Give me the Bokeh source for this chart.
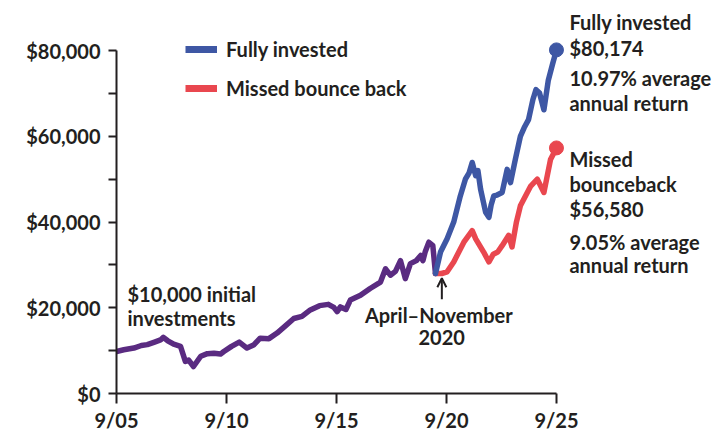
from bokeh.plotting import figure
from bokeh.models import (FixedTicker, Label, Arrow, OpenHead, Legend, LegendItem,
                          Range1d, NumeralTickFormatter)
from bokeh.embed import file_html
from bokeh.resources import INLINE

# ---------------- data (decimal years, dollars) ----------------
before_t = [2005.67, 2006.0, 2006.46, 2006.8, 2007.07, 2007.4, 2007.67, 2007.8, 2008.0,
            2008.27, 2008.58, 2008.8, 2008.95, 2009.17, 2009.5, 2009.8, 2010.1, 2010.4,
            2010.55, 2010.9, 2011.25, 2011.6, 2011.9, 2012.2, 2012.6, 2012.97, 2013.4,
            2013.73, 2014.1, 2014.48, 2014.9, 2015.3, 2015.55, 2015.7, 2015.85, 2016.1,
            2016.3, 2016.76, 2017.2, 2017.67, 2017.9, 2018.12, 2018.35, 2018.58, 2018.8,
            2019.03, 2019.3, 2019.5, 2019.6, 2019.7, 2019.87, 2020.05, 2020.17]
before_v = [9800, 10200, 10600, 11200, 11400, 12000, 12500, 13100, 12300,
            11500, 11000, 7500, 7800, 6300, 8700, 9300, 9400, 9200,
            9800, 11000, 12000, 10600, 11300, 12900, 12800, 14100, 16000,
            17500, 18000, 19500, 20500, 20800, 20100, 19100, 20200, 19600,
            21800, 22900, 24500, 26000, 29100, 27600, 28500, 31000, 26800,
            30300, 31000, 32200, 31000, 33000, 35300, 34500, 28000]

full_t = [2020.17, 2020.4, 2020.7, 2021.0, 2021.3, 2021.53, 2021.7, 2021.84, 2022.0,
          2022.1, 2022.22, 2022.45, 2022.6, 2022.7, 2022.82, 2022.97, 2023.2, 2023.43,
          2023.58, 2023.8, 2024.03, 2024.2, 2024.4, 2024.6, 2024.74, 2024.9, 2025.1,
          2025.3, 2025.5, 2025.67]
full_v = [28000, 33000, 36100, 40000, 46100, 50000, 51500, 53900, 50800,
          52000, 47700, 42300, 41100, 44000, 46100, 46300, 46900, 52300,
          49200, 54600, 60000, 62000, 63900, 68600, 70900, 70100, 66200,
          73100, 77000, 80174]

missed_t = [2020.17, 2020.45, 2020.7, 2021.0, 2021.46, 2021.84, 2022.0, 2022.36, 2022.6,
            2022.8, 2023.0, 2023.2, 2023.5, 2023.65, 2023.85, 2024.03, 2024.5, 2024.8,
            2025.1, 2025.4, 2025.67]
missed_v = [28000, 28000, 28400, 30700, 35300, 38000, 36100, 33000, 30700,
            32500, 33000, 34500, 36900, 34200, 40000, 43800, 48400, 50000,
            46900, 54600, 57300]

tick_years = [2005.67, 2010.67, 2015.67, 2020.67, 2025.67]
tick_labels = ["9/05", "9/10", "9/15", "9/20", "9/25"]
y_ticks = [0, 20000, 40000, 60000, 80000]
y_minor = [10000, 30000, 50000, 70000]

PURPLE = "#5a2b81"
BLUE = "#3e57a4"
RED = "#e9474f"
INK = "#231f20"
FONT = "Lato"
NAN = float("nan")

p = figure(width=715, height=434, output_backend="svg", toolbar_location=None,
           x_range=Range1d(2005.67, 2032.9), y_range=Range1d(0, 91700),
           min_border_left=116, min_border_right=0, min_border_top=0,
           min_border_bottom=38)
p.outline_line_color = None
p.grid.visible = False
p.background_fill_color = "white"
p.border_fill_color = "white"

# lines
p.line(before_t, before_v, line_color=PURPLE, line_width=5.5, line_join="round", line_cap="round")
p.line(missed_t, missed_v, line_color=RED, line_width=5.5, line_join="round", line_cap="round")
p.line(full_t, full_v, line_color=BLUE, line_width=5.5, line_join="round", line_cap="round")
p.scatter([full_t[-1]], [full_v[-1]], size=14, color=BLUE)
p.scatter([missed_t[-1]], [missed_v[-1]], size=14, color=RED)

# axes
xa = p.xaxis[0]
xa.ticker = FixedTicker(ticks=tick_years, minor_ticks=[])
xa.major_label_overrides = {t: l for t, l in zip(tick_years, tick_labels)}
xa.bounds = (tick_years[0], tick_years[-1])
xa.axis_line_width = 2
xa.axis_line_color = INK
xa.major_tick_line_width = 2
xa.major_tick_line_color = INK
xa.major_tick_out = 10
xa.major_tick_in = 0
xa.minor_tick_line_color = None
xa.major_label_standoff = 4
xa.major_label_text_font = FONT
xa.major_label_text_font_style = "bold"
xa.major_label_text_font_size = "20px"
xa.major_label_text_color = INK

ya = p.yaxis[0]
ya.ticker = FixedTicker(ticks=y_ticks, minor_ticks=y_minor)
ya.formatter = NumeralTickFormatter(format="$0,0")
ya.bounds = (0, 80000)
ya.axis_line_width = 2
ya.axis_line_color = INK
ya.major_tick_line_width = 2
ya.major_tick_line_color = INK
ya.major_tick_out = 8
ya.major_tick_in = 0
ya.minor_tick_line_width = 2
ya.minor_tick_line_color = INK
ya.minor_tick_out = 8
ya.minor_tick_in = 0
ya.major_label_standoff = 8
ya.major_label_text_font = FONT
ya.major_label_text_font_style = "bold"
ya.major_label_text_font_size = "20px"
ya.major_label_text_color = INK

# legend (swatches drawn thicker than the data lines)
r_leg_full = p.line([NAN, NAN], [NAN, NAN], line_color=BLUE, line_width=7)
r_leg_miss = p.line([NAN, NAN], [NAN, NAN], line_color=RED, line_width=7)
legend = Legend(items=[LegendItem(label="Fully invested", renderers=[r_leg_full]),
                       LegendItem(label="Missed bounce back", renderers=[r_leg_miss])],
                location=(69, 293), glyph_width=32, glyph_height=24, label_height=24,
                label_standoff=9, spacing=15, padding=0, margin=0,
                border_line_color=None, background_fill_alpha=0,
                label_text_font=FONT, label_text_font_style="bold",
                label_text_font_size="20px", label_text_color=INK)
p.add_layout(legend, "center")

def txt(x, y, s, align="left"):
    p.add_layout(Label(x=x, y=y, text=s, text_font=FONT, text_font_style="bold",
                       text_font_size="20px", text_color=INK, text_align=align,
                       text_baseline="middle"))

# right-hand annotations
rx = 2026.26
txt(rx, 86660, "Fully invested")
txt(rx, 80510, "$80,174")
txt(rx, 73560, "10.97% average")
txt(rx, 67770, "annual return")
txt(rx, 54640, "Missed")
txt(rx, 48850, "bounceback")
txt(rx, 42940, "$56,580")
txt(rx, 35340, "9.05% average")
txt(rx, 29930, "annual return")

# in-chart annotations
txt(2006.17, 23150, "$10,000 initial")
txt(2006.17, 17600, "investments")
txt(2020.32, 18360, "April\u2013November", align="center")
txt(2020.45, 12970, "2020", align="center")
p.add_layout(Arrow(x_start=2020.46, y_start=22000, x_end=2020.46, y_end=26900,
                   line_width=2, line_color=INK,
                   end=OpenHead(size=9, line_width=2, line_color=INK)))

open("out.html", "w").write(file_html(p, INLINE))
